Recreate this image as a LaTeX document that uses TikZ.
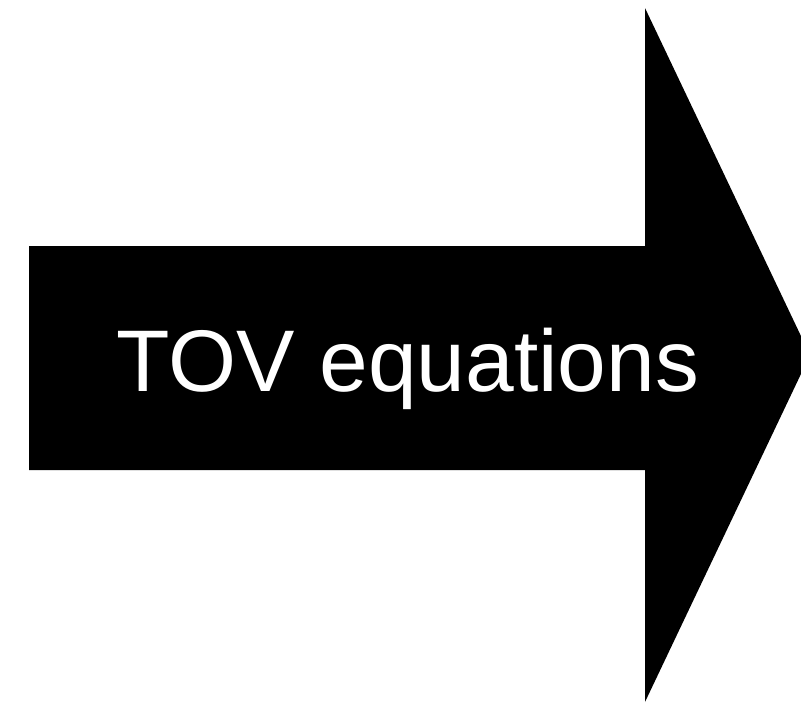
\documentclass[tikz,border=0pt]{standalone}
\usepackage{fontspec}
\setmainfont{Liberation Sans}
\usetikzlibrary{positioning}
\begin{document}
\begin{tikzpicture}[x=1pt,y=-1pt]
        \useasboundingbox (0,0) rectangle (801,704);
        \clip (0,0) rectangle (801,704);
        \coordinate (s1) at (29,246);
        \coordinate (s2) at (645,246);
        \coordinate (h1) at (645,8);
        \coordinate (tip) at (810,355);
        \coordinate (h2) at (645,702);
        \coordinate (s3) at (645,470);
        \coordinate (s4) at (29,470);
        %Arrow
        \fill[black] (s1) -- (s2) -- (h1) -- (tip) -- (h2) -- (s3) -- (s4) -- cycle;
        %Label
        \node[white,anchor=base,inner sep=0pt,font=\fontsize{87.5}{100}\selectfont] (label) at (408,391) {TOV equations};
      \end{tikzpicture}
\end{document}
